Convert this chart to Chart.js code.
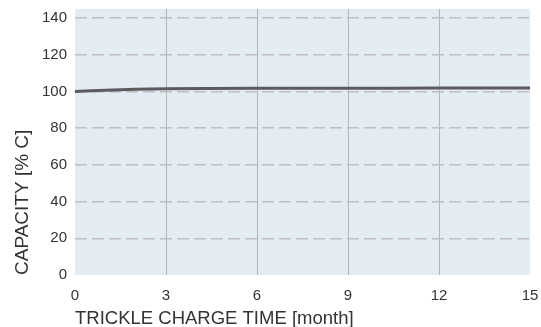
<!DOCTYPE html>
<html>
<head>
<meta charset="utf-8">
<script src="https://cdn.jsdelivr.net/npm/chart.js@4/dist/chart.umd.min.js"></script>
<style>
  html, body { margin: 0; padding: 0; background: #fff; }
  #wrap { width: 541px; height: 327px; }
</style>
</head>
<body>
<div id="wrap"><canvas id="capChart" width="541" height="327"></canvas></div>
<script>
// trickle charge time (months) vs remaining capacity (%)
var months = [0, 1, 2, 3, 4.5, 6, 9, 12, 15];
var capacity = [100, 100.7, 101.2, 101.5, 101.7, 101.8, 101.8, 101.9, 101.9];
var xTicks = [0, 3, 6, 9, 12, 15];
var yTicks = [0, 20, 40, 60, 80, 100, 120, 140];

var points = months.map(function (m, i) { return { x: m, y: capacity[i] }; });

// light blue fill behind the plot area
var plotBg = {
    id: 'plotBg',
    beforeDraw: function (chart) {
        var a = chart.chartArea, c = chart.ctx;
        c.save();
        c.fillStyle = '#e3ebf3';
        c.fillRect(a.left, a.top, a.right - a.left, a.bottom - a.top);
        c.restore();
    }
};

var tickFont = { family: 'Liberation Sans, Arial, sans-serif', size: 15 };
var titleFont = { family: 'Liberation Sans, Arial, sans-serif', size: 18.5 };

new Chart(document.getElementById('capChart').getContext('2d'), {
    type: 'line',
    data: {
        datasets: [{
            data: points,
            borderColor: '#5b5b5f',
            borderWidth: 3,
            pointRadius: 0,
            fill: false,
            cubicInterpolationMode: 'monotone'
        }]
    },
    options: {
        responsive: false,
        animation: false,
        layout: { padding: { top: 9, right: 11, left: 0, bottom: 0 } },
        plugins: { legend: { display: false }, tooltip: { enabled: false } },
        scales: {
            x: {
                type: 'linear',
                min: 0,
                max: 15,
                afterBuildTicks: function (s) { s.ticks = xTicks.map(function (v) { return { value: v }; }); },
                afterFit: function (s) {
                    s.height = 52;
                    s.paddingLeft = 0;
                    s.paddingRight = 0;
                },
                border: { display: false },
                grid: {
                    color: function (c) { return (c.tick.value === 0 || c.tick.value === 15) ? 'rgba(0,0,0,0)' : '#b6b6b8'; },
                    lineWidth: 1,
                    drawTicks: false
                },
                ticks: { color: '#333', font: tickFont, padding: 12, maxRotation: 0 },
                title: {
                    display: true,
                    text: 'TRICKLE CHARGE TIME [month]',
                    color: '#333',
                    font: titleFont,
                    align: 'start',
                    padding: { top: 0, bottom: -3 }
                }
            },
            y: {
                min: 0,
                max: 145,
                afterBuildTicks: function (s) { s.ticks = yTicks.map(function (v) { return { value: v }; }); },
                afterFit: function (s) {
                    s.width = 75;
                    s.paddingTop = 0;
                    s.paddingBottom = 0;
                },
                border: { display: false, dash: [12, 5] },
                grid: {
                    color: function (c) { return c.tick.value === 0 ? 'rgba(0,0,0,0)' : '#c0c0c0'; },
                    lineWidth: 1.5,
                    drawTicks: false
                },
                ticks: { color: '#333', font: tickFont, padding: 8 },
                title: {
                    display: true,
                    text: 'CAPACITY [% C]',
                    color: '#333',
                    font: { family: 'Liberation Sans, Arial, sans-serif', size: 19 },
                    align: 'start',
                    padding: { top: 11, bottom: 0 }
                }
            }
        }
    },
    plugins: [plotBg]
});
</script>
</body>
</html>
